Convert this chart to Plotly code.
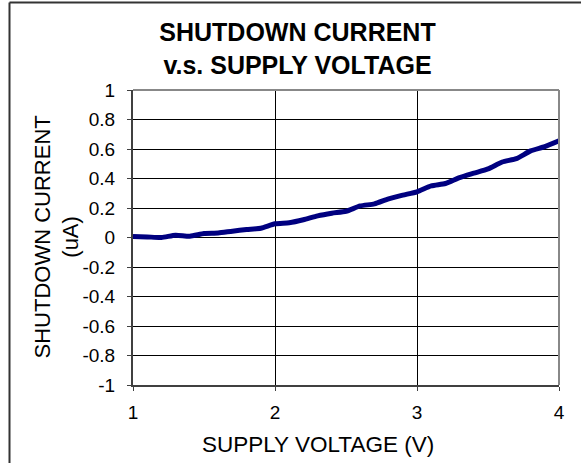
import plotly.graph_objects as go

supply_voltage = [1.0, 1.1, 1.2, 1.3, 1.4, 1.5, 1.6, 1.7, 1.8, 1.9,
                  2.0, 2.1, 2.2, 2.3, 2.4, 2.5, 2.6, 2.7, 2.8, 2.9,
                  3.0, 3.1, 3.2, 3.3, 3.4, 3.5, 3.6, 3.7, 3.8, 3.9, 4.0]
shutdown_current = [0.007, 0.004, 0.0, 0.016, 0.009, 0.027, 0.030, 0.043, 0.054, 0.063,
                    0.093, 0.100, 0.120, 0.147, 0.165, 0.178, 0.214, 0.228, 0.262, 0.287,
                    0.310, 0.350, 0.366, 0.406, 0.436, 0.465, 0.512, 0.535, 0.587, 0.616, 0.655]
x_ticks = [1, 2, 3, 4]
y_ticks = [1, 0.8, 0.6, 0.4, 0.2, 0, -0.2, -0.4, -0.6, -0.8, -1]
y_tick_text = ["1", "0.8", "0.6", "0.4", "0.2", "0", "-0.2", "-0.4", "-0.6", "-0.8", "-1"]

FONT = "Liberation Sans, Arial, sans-serif"
W, H = 581, 463
L, R, T, B = 133, 22, 90, 78
PW, PH = W - L - R, H - T - B

def px(x):
    return (x - L) / PW

def py(y):
    return (H - B - y) / PH

fig = go.Figure()
fig.add_trace(go.Scatter(
    x=supply_voltage, y=shutdown_current, mode="lines",
    line=dict(color="#000080", width=5, shape="spline", smoothing=0.6),
    hoverinfo="x+y", showlegend=False,
))

fig.update_layout(
    width=W, height=H,
    margin=dict(l=L, r=R, t=T, b=B),
    paper_bgcolor="white", plot_bgcolor="white",
    font=dict(family=FONT, color="black"),
    title=dict(
        text="<b>SHUTDOWN CURRENT<br>v.s. SUPPLY VOLTAGE</b>",
        font=dict(family=FONT, size=25, color="black"),
        x=297.5 / W, xanchor="center", xref="container",
        y=1 - 41 / H, yanchor="top", yref="container",
    ),
    xaxis=dict(
        range=[1, 4], tickvals=x_ticks, ticktext=[str(v) for v in x_ticks],
        showgrid=True, gridcolor="black", gridwidth=1,
        showline=True, linecolor="#404040", linewidth=2,
        ticks="outside", ticklen=4, tickcolor="#404040",
        tickfont=dict(family=FONT, size=19, color="black"),
        ticklabelstandoff=5, zeroline=False,
    ),
    yaxis=dict(
        range=[-1, 1], tickvals=y_ticks, ticktext=y_tick_text,
        showgrid=True, gridcolor="black", gridwidth=1,
        showline=True, linecolor="#404040", linewidth=2,
        ticks="outside", ticklen=4, tickcolor="#404040",
        tickfont=dict(family=FONT, size=19, color="black"),
        ticklabelstandoff=8, zeroline=False,
    ),
    shapes=[
        dict(type="line", xref="paper", yref="paper", x0=0, x1=1, y0=1, y1=1,
             line=dict(color="#888888", width=2)),
        dict(type="line", xref="paper", yref="paper", x0=1, x1=1, y0=0, y1=1,
             line=dict(color="#888888", width=2)),
        dict(type="line", xref="paper", yref="paper", x0=px(9.5), x1=px(590),
             y0=py(2.5), y1=py(2.5), line=dict(color="#333333", width=2)),
        dict(type="line", xref="paper", yref="paper", x0=px(9.5), x1=px(9.5),
             y0=py(2.5), y1=py(470), line=dict(color="#333333", width=2)),
    ],
    annotations=[
        dict(text="SUPPLY VOLTAGE (V)", xref="paper", yref="paper",
             x=px(318), y=py(445), xanchor="center", yanchor="middle",
             showarrow=False, font=dict(family=FONT, size=22.5, color="black")),
        dict(text="SHUTDOWN CURRENT<br>(uA)", xref="paper", yref="paper",
             x=px(56), y=0.5, xanchor="center", yanchor="middle", textangle=-90,
             showarrow=False, font=dict(family=FONT, size=22, color="black")),
    ],
)

fig.write_html("out.html", config={"displayModeBar": False},
               post_script="document.body.style.margin='0';document.body.style.overflow='hidden';")
